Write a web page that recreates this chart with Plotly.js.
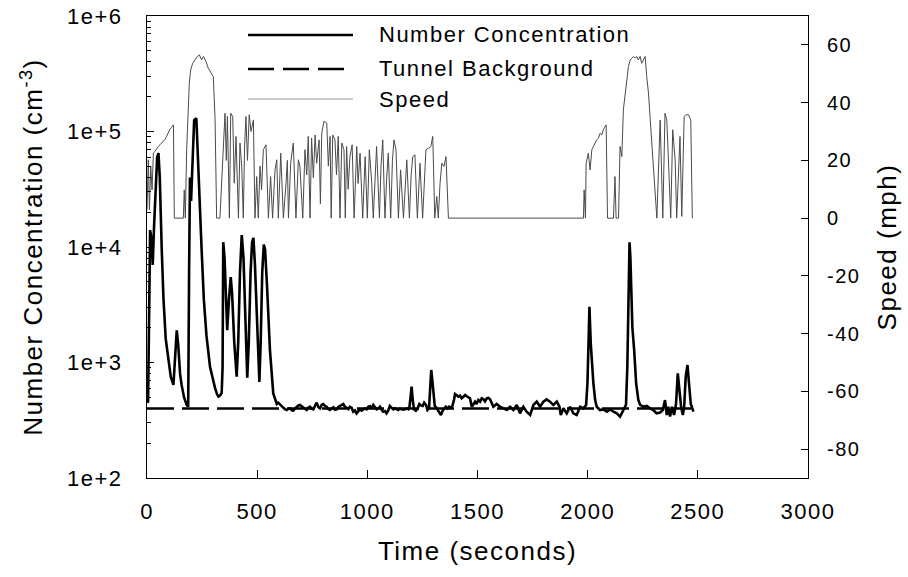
<!DOCTYPE html>
<html>
<head>
<meta charset="utf-8">
<script src="https://cdn.plot.ly/plotly-3.0.1.min.js"></script>
<style>
html,body{margin:0;padding:0;background:#fff;}
text{letter-spacing:1.5px;}
</style>
</head>
<body>
<div id="chart" style="width:908px;height:577px;"></div>
<script>
// ---- Number concentration (cm^-3) vs time (s) ----
const concT = [0,5,10,14,20,26,32,40,46,52,58,67,75,85,97,108,120,127,135,142,150,157,168,180,187,
  191,195,200,206,214,224,232,240,248,258,270,286,300,309,318,324,332,339,343,346,352,358,364,372,380,386,396,407,414,422,430,438,446,455,462,470,477,483,490,500,510,516,523,530,536,545,558,573,
  589,596,604,611,619,626,634,642,649,657,664,672,679,687,694,702,710,717,725,732,740,747,755,762,770,778,785,793,800,808,815,823,830,838,846,853,861,868,876,883,891,898,906,914,921,929,936,944,951,959,966,974,982,989,997,
  1004,1012,1019,1027,1034,1042,1050,1057,1065,1072,1080,1087,1095,1102,1110,1118,1125,1133,1140,1148,1155,1163,1171,1178,1186,1191,1196,1201,1206,1212,1220,1228,1236,1243,1251,1258,1266,1273,1280,1286,1290,1295,1300,1306,1312,1319,1326,1334,1341,1348,1356,1364,1371,1379,1386,1394,1398,1406,1413,1421,1428,1436,1444,1451,1459,1466,1474,1481,1489,1496,1504,1512,1519,1527,1534,1542,1549,1557,
  1572,1587,1602,1618,1633,1648,1663,1678,1693,1708,1723,1739,1754,1769,1784,1799,1814,1829,1844,1860,1872,1878,1890,1905,1920,1935,1950,1966,1981,1993,1999,2005,2008,2014,2020,2026,2034,2041,2056,2071,2087,2102,2117,2132,2147,2162,2174,2180,2186,2190,2194,2198,2203,2211,2220,2230,2238,
  2253,2268,2283,2298,2313,2329,2341,2351,2359,2366,2374,2382,2392,2401,2409,2416,2424,2432,2438,2445,2453,2460,2468,2480];
const concV = [450,460,3000,14000,12000,7000,15000,35000,60000,65000,40000,9400,3500,1600,1050,750,640,1000,1900,1400,800,640,500,430,415,
  6000,40000,25000,60000,125000,130000,60000,25000,9400,3500,1700,920,700,600,530,506,520,545,900,11000,8000,3500,1900,3500,5500,4000,1500,755,1500,6000,12700,8000,2500,740,1500,6000,11000,12000,7000,2000,680,1500,6000,10500,9500,4500,1280,540,
  437,449,430,420,405,395,388,398,401,385,383,400,414,425,429,418,409,395,388,405,414,398,393,420,449,410,401,430,437,420,414,395,388,400,409,390,393,412,420,430,437,415,401,395,414,405,375,385,363,380,393,383,393,400,393,
  414,420,400,429,410,393,401,414,390,375,380,363,385,420,405,393,401,395,388,398,393,390,393,400,393,410,500,618,473,393,383,398,437,425,420,449,430,388,400,661,861,700,578,420,409,388,363,351,380,393,414,400,414,405,420,480,534,520,506,515,490,506,523,510,500,490,414,440,458,437,473,458,490,480,460,490,494,480,
  414,437,414,401,388,414,388,429,363,414,375,351,429,458,414,458,480,458,429,458,414,351,401,363,414,363,351,414,401,429,661,1790,3043,1466,920,661,473,414,388,393,375,393,375,363,340,388,429,920,3000,11000,8000,4000,2000,1283,661,473,429,
  414,420,401,388,363,368,388,473,351,414,340,414,351,437,806,578,414,351,414,754,951,661,437,375];

// ---- Tunnel background (cm^-3) ----
const bgT = [0, 2470];
const bgV = [400, 400];

// ---- Vehicle speed (mph) vs time (s) ----
const speedT = [0,6,11,17,23,29,36,44,51,59,67,74,82,89,97,104,112,120,124,165,169,174,180,186,192,198,207,218,229,238,248,256,268,278,289,301,309,316,331,
  354,360,365,374,380,389,396,404,415,422,430,437,443,449,456,464,472,483,490,498,505,513,520,528,540,551,561,570,581,589,596,607,613,619,631,637,642,652,664,676,687,694,707,717,725,732,740,747,755,763,770,781,787,793,803,816,823,831,836,843,853,860,868,876,884,894,900,906,913,921,931,940,
  952,958,967,979,990,1000,1009,1020,1027,1035,1042,1055,1062,1070,1080,1088,1095,1106,1114,1121,1130,1141,1151,1164,1171,1179,1191,1199,1206,1216,1227,1239,1251,1259,1266,1277,1288,1297,1306,1315,1322,1330,1338,1348,1357,1368,
  1981,1984,1990,1993,2003,2011,2019,2026,2034,2041,2049,2056,2064,2071,2084,2090,2117,2124,2129,2140,2147,2155,2162,2170,2177,2185,2193,2200,2208,2215,2223,2230,2238,2245,2253,2261,2268,2276,2283,2291,2301,2314,2329,2336,2341,2351,2359,2366,2377,2386,2397,2404,2419,2427,2438,2447,2457,2468,2475];
const speedV = [3,20.2,2.9,17.9,9.8,22.5,23.1,24.2,24.8,25.4,26,26.5,27.3,28.3,30,30.8,31.5,32.3,0,0,9.8,0,23.7,37.5,46.7,51.3,53.6,54.8,56,56.5,54.8,56,54.2,51.9,50.7,49,34,0,0,
  36.3,20,35.2,0,36.3,35.2,12.1,28.3,0,26,17.9,0,25,35.2,20,35.8,30,34,0,14.4,0,18,9.8,23.7,25.4,0,14.4,0,16.7,20.2,0,22.5,8,0,12.1,20,0,19,26,0,20.2,17.9,0,23.7,15,28.3,0,27.7,14,28.8,19,27.1,5,29.4,33.5,32.9,18,28.3,0,28.8,27.1,15,28.3,0,26,23.7,0,24.8,10,21.3,25.4,0,
  24.8,12,22.5,0,21.3,0,23.7,12.1,0,15,24.8,0,18,27.1,0,14,22.5,0,20,27.1,23.7,0,16.7,0,12,20.2,0,15,21.3,21.9,0,19,0,14,23.7,24.2,24.8,28.3,0,7.5,0,12,19,17.9,21.3,0,
  0,9.8,0,19,22.5,16.7,23.7,24.8,26,27.1,27.7,29.4,28.8,30.6,32.3,0,0,14.4,0,0,24.8,21.3,37.5,43.3,47.9,52.5,54.8,55.4,56,55.4,56,54.8,56,53.6,54.8,56,49,43.3,35.2,26,12.1,0,34,16.7,0,36.3,34,21.3,0,30.6,20.2,0,28.3,0.6,35.2,35.8,35.8,34,0];

// ---- Axis ticks ----
const xTickVals = [0,500,1000,1500,2000,2500,3000];
const yTickVals = [100,1000,10000,100000,1000000];
const yTickText = ['1e+2','1e+3','1e+4','1e+5','1e+6'];
const y2TickVals = [-80,-60,-40,-20,0,20,40,60];
const y2TickText = ['-80','-60','-40','-20','0','20','40','60'];

// ---- Legend entries ----
const legendNames = ['Number Concentration','Tunnel Background','Speed'];

const FONT = 'Liberation Sans, Arial, sans-serif';

// minor tick positions of the log axis (2..9 within each decade)
const yMinorVals = [];
[100, 1000, 10000, 100000].forEach(d => { for (let k = 2; k <= 9; k++) yMinorVals.push(k * d); });

const traces = [
  {x: speedT, y: speedV, yaxis: 'y2', type: 'scatter', mode: 'lines', name: legendNames[2],
   line: {color: '#4a4a4a', width: 1}, showlegend: false},
  {x: concT, y: concV, type: 'scatter', mode: 'lines', name: legendNames[0],
   line: {color: '#000', width: 2.6}, showlegend: false},
  // background drawn on y3, an overlay with the same log scale as y (carries the minor ticks)
  {x: bgT, y: bgV, yaxis: 'y3', type: 'scatter', mode: 'lines', name: legendNames[1],
   line: {color: '#000', width: 2.5, dash: '27px,8px'}, showlegend: false}
];

// legend drawn with paper-anchored shapes/annotations (long sample lines)
const legRowsY = [0.9589, 0.8853, 0.8203];
const legLineX = [0.1528, 0.3116];
const legTextX = 0.3495;
const legStyles = [
  {color: '#000', width: 2.5, dash: 'solid'},
  {color: '#000', width: 2.5, dash: '26px,9px'},
  {color: '#999', width: 1, dash: 'solid'}
];
const shapes = legendNames.map((n, i) => ({
  type: 'line', xref: 'paper', yref: 'paper',
  x0: legLineX[0], x1: legLineX[1], y0: legRowsY[i], y1: legRowsY[i],
  line: legStyles[i]
}));
const annotations = legendNames.map((n, i) => ({
  text: n, xref: 'paper', yref: 'paper', x: legTextX, y: legRowsY[i],
  xanchor: 'left', yanchor: 'middle', align: 'left', showarrow: false, borderpad: 0,
  font: {family: FONT, size: 22, color: '#000'}
}));

const layout = {
  width: 908, height: 577,
  margin: {l: 147, r: 100, t: 16, b: 99, pad: 0},
  paper_bgcolor: '#fff', plot_bgcolor: '#fff',
  font: {family: FONT, size: 22, color: '#000'},
  showlegend: false,
  xaxis: {
    range: [0, 3000], tickmode: 'array', tickvals: xTickVals,
    ticks: 'inside', ticklen: 8, tickwidth: 1, tickcolor: '#000',
    showline: true, linecolor: '#000', linewidth: 1, mirror: true,
    showgrid: false, zeroline: false,
    tickfont: {family: FONT, size: 22, color: '#000'},
    ticklabelstandoff: 14,
    title: {text: 'Time (seconds)', font: {family: FONT, size: 26, color: '#000'}, standoff: 18}
  },
  yaxis: {
    type: 'log', range: [2, 6], tickmode: 'array', tickvals: yTickVals, ticktext: yTickText,
    ticks: 'inside', ticklen: 7, tickwidth: 1, tickcolor: '#000',
    showline: true, linecolor: '#000', linewidth: 1,
    showgrid: false, zeroline: false,
    tickfont: {family: FONT, size: 22, color: '#000'},
    ticklabelstandoff: 19,
    title: {text: 'Number Concentration (cm<sup>-3</sup>)', font: {family: FONT, size: 26, color: '#000'}, standoff: 16}
  },
  yaxis3: {
    overlaying: 'y', side: 'left', type: 'log', range: [2, 6],
    tickmode: 'array', tickvals: yMinorVals,
    ticks: 'inside', ticklen: 4, tickwidth: 1, tickcolor: '#000',
    showticklabels: false, showline: false, showgrid: false, zeroline: false
  },
  yaxis2: {
    overlaying: 'y', side: 'right', range: [-90, 70],
    tickmode: 'array', tickvals: y2TickVals, ticktext: y2TickText,
    ticks: 'inside', ticklen: 7, tickwidth: 1, tickcolor: '#000',
    showline: true, linecolor: '#000', linewidth: 1,
    showgrid: false, zeroline: false,
    tickfont: {family: FONT, size: 20, color: '#000'},
    ticklabelstandoff: 14,
    title: {text: 'Speed (mph)', font: {family: FONT, size: 26, color: '#000'}, standoff: 18}
  },
  shapes: shapes,
  annotations: annotations
};

Plotly.newPlot('chart', traces, layout, {staticPlot: true, displayModeBar: false});
</script>
</body>
</html>
